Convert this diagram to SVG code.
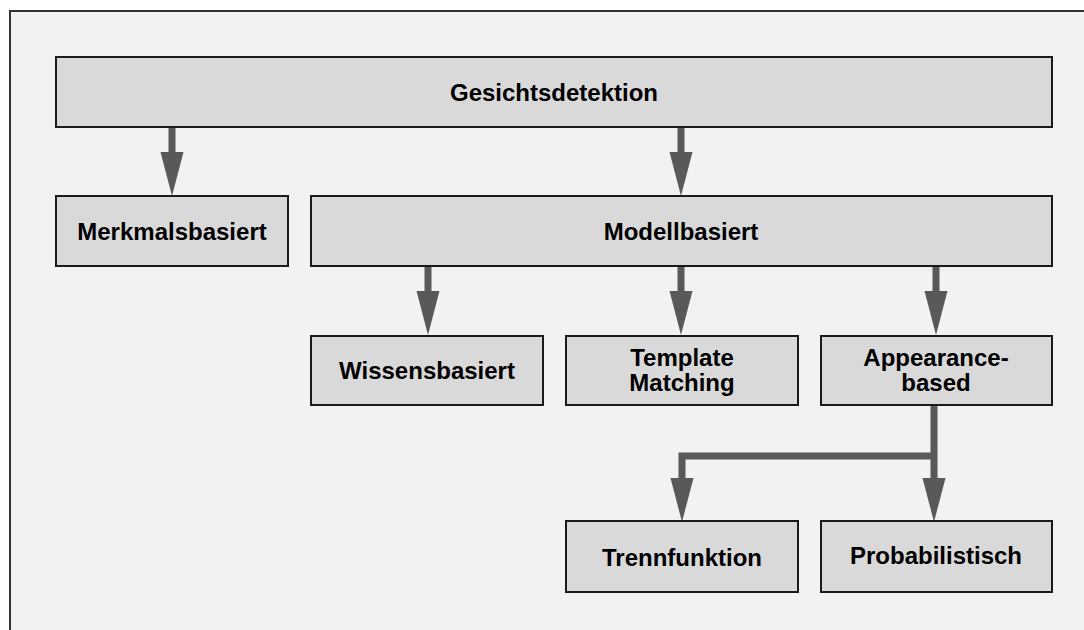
<svg xmlns="http://www.w3.org/2000/svg" width="1084" height="630" viewBox="0 0 1084 630">
<style>
.box{fill:#d9d9d9;stroke:#1a1a1a;stroke-width:2}
.lbl{font-family:"Liberation Sans",Arial,sans-serif;font-weight:bold;font-size:24px;fill:#000;text-anchor:middle}
.wire{fill:none;stroke:#595959;stroke-width:7}
.head{fill:#595959}
</style>
<defs>
<path id="ah" d="M-11.5,0 L11.5,0 L0,44 Z"/>
</defs>
<rect x="0" y="0" width="1084" height="630" fill="#ffffff"/>
<rect x="10" y="11" width="1090" height="640" fill="#f2f2f2" stroke="#333333" stroke-width="2"/>
<g id="connectors">
<line class="wire" x1="172" y1="127" x2="172" y2="154"/>
<use href="#ah" class="head" x="172" y="152"/>
<line class="wire" x1="681" y1="127" x2="681" y2="154"/>
<use href="#ah" class="head" x="681" y="152"/>
<line class="wire" x1="428" y1="266" x2="428" y2="293"/>
<use href="#ah" class="head" x="428" y="291"/>
<line class="wire" x1="681" y1="266" x2="681" y2="293"/>
<use href="#ah" class="head" x="681" y="291"/>
<line class="wire" x1="936" y1="266" x2="936" y2="293"/>
<use href="#ah" class="head" x="936" y="291"/>
<polyline class="wire" points="934,405 934,480"/>
<polyline class="wire" points="934,456 682,456 682,480"/>
<use href="#ah" class="head" x="934" y="478"/>
<use href="#ah" class="head" x="682" y="478"/>
</g>
<g id="n-gesichtsdetektion">
<rect class="box" x="56" y="57" width="996" height="70"/>
<text class="lbl" x="554" y="101">Gesichtsdetektion</text>
</g>
<g id="n-merkmalsbasiert">
<rect class="box" x="56" y="196" width="232" height="70"/>
<text class="lbl" x="172" y="240">Merkmalsbasiert</text>
</g>
<g id="n-modellbasiert">
<rect class="box" x="311" y="196" width="741" height="70"/>
<text class="lbl" x="681" y="240">Modellbasiert</text>
</g>
<g id="n-wissensbasiert">
<rect class="box" x="311" y="336" width="232" height="69"/>
<text class="lbl" x="427" y="379">Wissensbasiert</text>
</g>
<g id="n-template">
<rect class="box" x="566" y="336" width="232" height="69"/>
<text class="lbl" x="682" y="366">Template</text>
<text class="lbl" x="682" y="391">Matching</text>
</g>
<g id="n-appearance">
<rect class="box" x="821" y="336" width="231" height="69"/>
<text class="lbl" x="936" y="366">Appearance-</text>
<text class="lbl" x="936" y="391">based</text>
</g>
<g id="n-trennfunktion">
<rect class="box" x="566" y="521" width="232" height="71"/>
<text class="lbl" x="682" y="566">Trennfunktion</text>
</g>
<g id="n-probabilistisch">
<rect class="box" x="821" y="521" width="231" height="71"/>
<text class="lbl" x="936" y="564">Probabilistisch</text>
</g>
</svg>
